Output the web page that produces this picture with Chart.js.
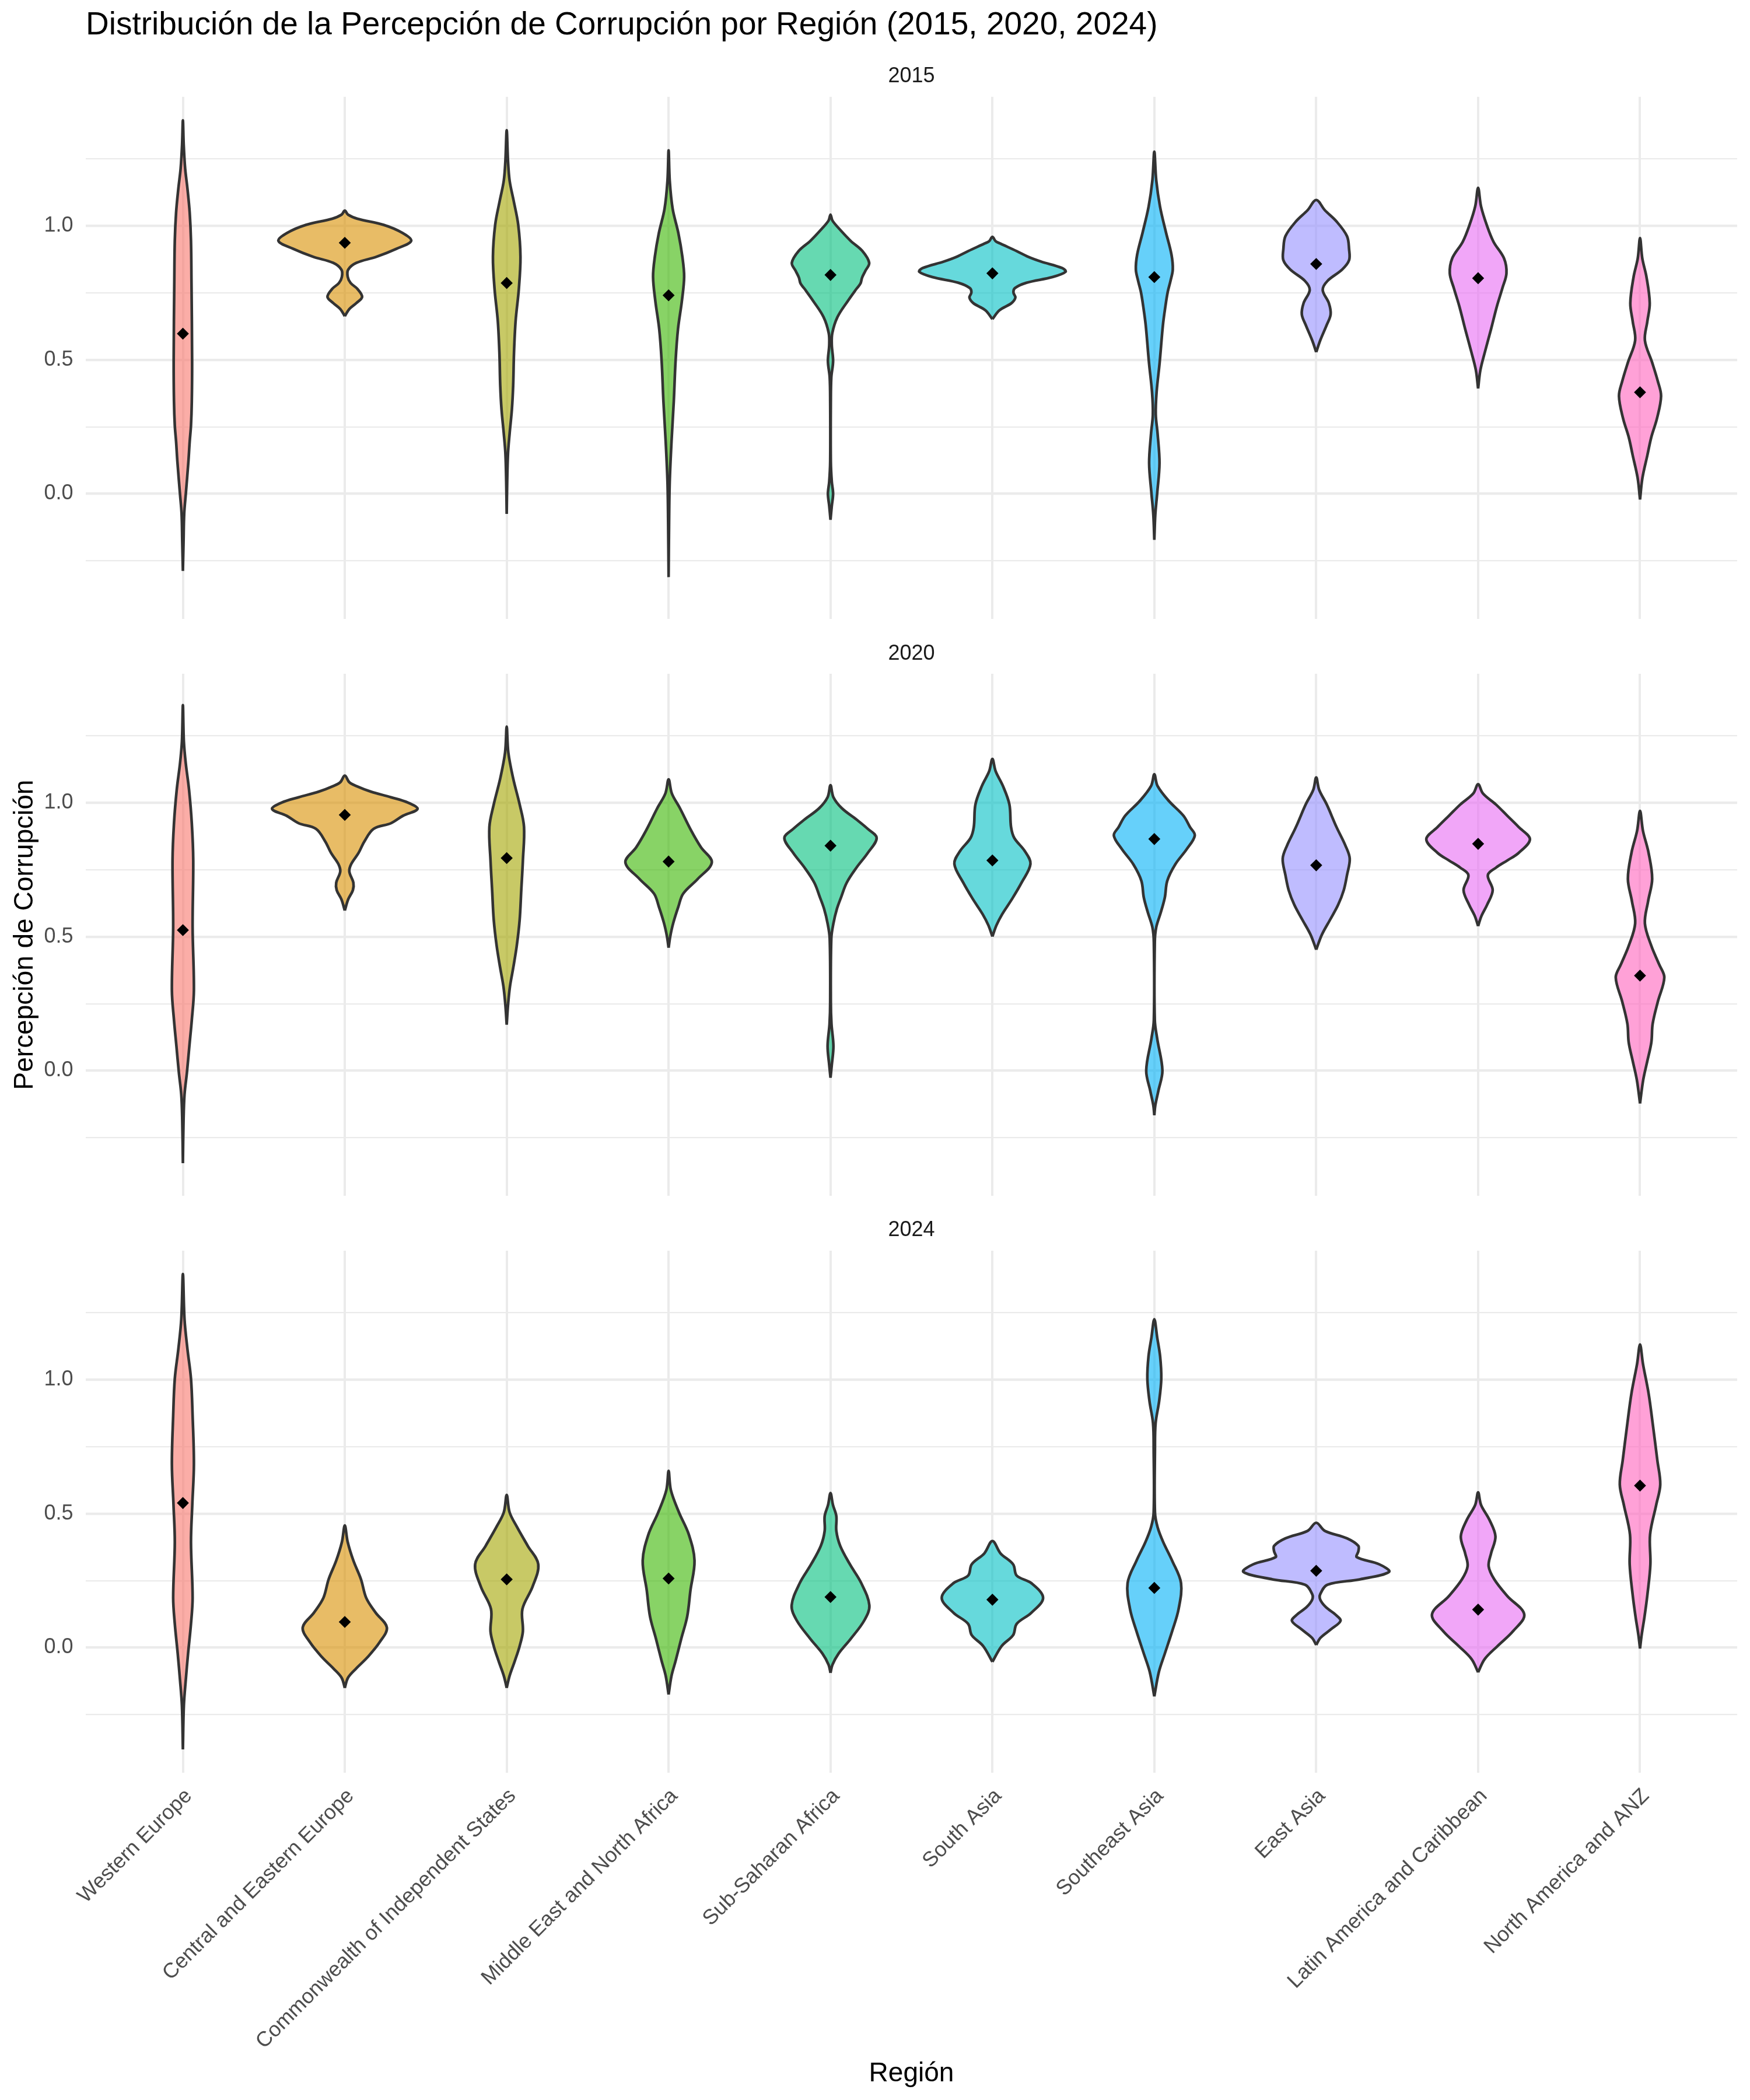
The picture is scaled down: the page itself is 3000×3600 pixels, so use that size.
<!DOCTYPE html>
<html>
<head>
<meta charset="utf-8">
<script src="https://cdn.jsdelivr.net/npm/chart.js@4.4.1/dist/chart.umd.min.js"></script>
<style>
html,body{margin:0;padding:0;background:#ffffff;}
#wrap{position:relative;width:3000px;height:3600px;overflow:hidden;background:#fff;}
canvas{position:absolute;left:0;}
</style>
</head>
<body>
<div id="wrap">
<canvas id="cA" width="3000" height="1061" style="top:0px"></canvas>
<canvas id="cB" width="3000" height="989" style="top:1061px"></canvas>
<canvas id="cC" width="3000" height="1550" style="top:2050px"></canvas>
</div>
<script>
// ---------------- data ----------------
const regions = ['Western Europe','Central and Eastern Europe','Commonwealth of Independent States',
  'Middle East and North Africa','Sub-Saharan Africa','South Asia','Southeast Asia','East Asia',
  'Latin America and Caribbean','North America and ANZ'];
const years = ['2015','2020','2024'];
const yTickValues = [-0.25, 0, 0.25, 0.5, 0.75, 1.0, 1.25];

// mean (diamond) per region
const means2015 = [0.598, 0.937, 0.787, 0.741, 0.817, 0.823, 0.809, 0.858, 0.805, 0.379];
const means2020 = [0.525, 0.955, 0.794, 0.781, 0.840, 0.785, 0.865, 0.767, 0.847, 0.355];
const means2024 = [0.540, 0.096, 0.255, 0.258, 0.189, 0.179, 0.223, 0.287, 0.142, 0.605];

// violin density profiles: [value, half-width in category units]
const density2015 = [
  [[1.394,0],[1.304,0.005],[1.214,0.014],[1.140,0.028],[1.050,0.042],[0.945,0.050],[0.795,0.053],[0.495,0.057],[0.345,0.055],[0.255,0.050],[0.195,0.042],[0.120,0.034],[0.0,0.018],[-0.075,0.008],[-0.18,0.004],[-0.288,0]],
  [[1.057,0],[1.042,0.02],[1.027,0.078],[1.004,0.24],[0.974,0.356],[0.944,0.41],[0.915,0.32],[0.885,0.196],[0.862,0.071],[0.837,0.021],[0.810,0.018],[0.787,0.036],[0.765,0.078],[0.735,0.107],[0.712,0.071],[0.690,0.028],[0.663,0]],
  [[1.357,0],[1.244,0.008],[1.169,0.018],[1.094,0.043],[1.005,0.071],[0.885,0.085],[0.765,0.075],[0.645,0.055],[0.525,0.045],[0.405,0.040],[0.315,0.032],[0.225,0.018],[0.150,0.008],[0.045,0.003],[-0.075,0]],
  [[1.282,0],[1.169,0.007],[1.064,0.025],[0.974,0.06],[0.885,0.085],[0.810,0.096],[0.720,0.082],[0.615,0.058],[0.495,0.043],[0.345,0.032],[0.195,0.018],[0.045,0.007],[-0.105,0.003],[-0.311,0]],
  [[1.042,0],[1.020,0.012],[0.990,0.053],[0.944,0.125],[0.907,0.196],[0.862,0.239],[0.832,0.215],[0.807,0.195],[0.785,0.185],[0.765,0.16],[0.720,0.107],[0.660,0.043],[0.600,0.011],[0.555,0.008],[0.495,0.016],[0.435,0.005],[0.345,0.002],[0.120,0.002],[0.045,0.008],[0.0,0.016],[-0.045,0.008],[-0.097,0]],
  [[0.959,0],[0.943,0.02],[0.934,0.05],[0.906,0.15],[0.885,0.22],[0.867,0.30],[0.843,0.43],[0.829,0.452],[0.809,0.37],[0.788,0.21],[0.768,0.139],[0.751,0.13],[0.733,0.142],[0.712,0.118],[0.685,0.043],[0.652,0]],
  [[1.277,0],[1.170,0.012],[1.073,0.035],[0.976,0.072],[0.893,0.106],[0.837,0.114],[0.795,0.1],[0.754,0.083],[0.698,0.068],[0.629,0.053],[0.490,0.033],[0.379,0.014],[0.296,0.009],[0.226,0.02],[0.115,0.032],[0.004,0.018],[-0.079,0.006],[-0.172,0]],
  [[1.097,0],[1.059,0.053],[1.017,0.125],[0.962,0.19],[0.913,0.203],[0.872,0.203],[0.837,0.16],[0.795,0.07],[0.761,0.04],[0.712,0.078],[0.670,0.089],[0.629,0.064],[0.573,0.025],[0.529,0]],
  [[1.142,0],[1.073,0.018],[1.004,0.053],[0.941,0.095],[0.879,0.16],[0.823,0.175],[0.768,0.15],[0.698,0.115],[0.615,0.08],[0.532,0.043],[0.462,0.014],[0.393,0]],
  [[0.955,0],[0.879,0.014],[0.809,0.04],[0.712,0.06],[0.643,0.045],[0.573,0.03],[0.490,0.075],[0.420,0.11],[0.365,0.13],[0.282,0.105],[0.212,0.07],[0.143,0.045],[0.060,0.015],[-0.021,0]]
];
const density2020 = [
  [[1.365,0],[1.229,0.006],[1.146,0.018],[1.049,0.038],[0.924,0.055],[0.785,0.064],[0.536,0.060],[0.300,0.068],[0.189,0.055],[0.092,0.040],[-0.006,0.025],[-0.089,0.010],[-0.186,0.004],[-0.345,0]],
  [[1.102,0],[1.077,0.028],[1.063,0.07],[1.042,0.16],[1.021,0.285],[1.001,0.39],[0.977,0.449],[0.952,0.36],[0.924,0.285],[0.903,0.178],[0.855,0.12],[0.813,0.085],[0.772,0.04],[0.744,0.028],[0.702,0.053],[0.674,0.05],[0.640,0.021],[0.598,0]],
  [[1.285,0],[1.188,0.01],[1.091,0.04],[0.994,0.08],[0.910,0.107],[0.785,0.10],[0.674,0.09],[0.563,0.08],[0.466,0.062],[0.383,0.04],[0.314,0.02],[0.244,0.008],[0.172,0]],
  [[1.088,0],[1.035,0.02],[0.980,0.07],[0.896,0.14],[0.834,0.2],[0.778,0.267],[0.716,0.18],[0.661,0.09],[0.612,0.06],[0.550,0.028],[0.501,0.01],[0.459,0]],
  [[1.066,0],[1.021,0.018],[0.980,0.07],[0.938,0.16],[0.903,0.23],[0.869,0.285],[0.813,0.23],[0.758,0.16],[0.702,0.10],[0.647,0.065],[0.605,0.04],[0.550,0.018],[0.494,0.005],[0.258,0.002],[0.175,0.006],[0.092,0.018],[0.022,0.008],[-0.026,0]],
  [[1.164,0],[1.118,0.02],[1.063,0.065],[0.994,0.105],[0.910,0.115],[0.869,0.135],[0.820,0.2],[0.772,0.235],[0.702,0.18],[0.640,0.12],[0.584,0.06],[0.543,0.025],[0.501,0]],
  [[1.107,0],[1.063,0.02],[1.007,0.09],[0.952,0.18],[0.910,0.22],[0.878,0.25],[0.827,0.2],[0.771,0.13],[0.709,0.08],[0.647,0.065],[0.591,0.04],[0.536,0.012],[0.480,0.003],[0.189,0.003],[0.119,0.018],[0.001,0.05],[-0.075,0.025],[-0.130,0.006],[-0.166,0]],
  [[1.095,0],[1.049,0.018],[0.994,0.065],[0.910,0.125],[0.841,0.18],[0.792,0.207],[0.730,0.19],[0.674,0.17],[0.619,0.135],[0.563,0.085],[0.508,0.035],[0.452,0]],
  [[1.070,0],[1.035,0.03],[0.994,0.11],[0.952,0.18],[0.910,0.25],[0.864,0.32],[0.813,0.25],[0.785,0.18],[0.758,0.11],[0.730,0.06],[0.674,0.09],[0.619,0.055],[0.577,0.02],[0.540,0]],
  [[0.970,0],[0.896,0.018],[0.813,0.053],[0.716,0.075],[0.633,0.05],[0.550,0.03],[0.466,0.07],[0.397,0.118],[0.348,0.15],[0.258,0.11],[0.175,0.078],[0.106,0.07],[0.036,0.045],[-0.033,0.02],[-0.122,0]]
];
const density2024 = [
  [[1.395,0],[1.226,0.01],[1.115,0.028],[1.004,0.05],[0.866,0.06],[0.685,0.068],[0.533,0.058],[0.394,0.05],[0.186,0.06],[0.089,0.05],[-0.022,0.032],[-0.119,0.018],[-0.216,0.006],[-0.380,0]],
  [[0.456,0],[0.394,0.018],[0.325,0.053],[0.255,0.1],[0.186,0.132],[0.131,0.19],[0.075,0.26],[0.020,0.215],[-0.036,0.14],[-0.078,0.07],[-0.112,0.02],[-0.150,0]],
  [[0.570,0],[0.505,0.018],[0.450,0.064],[0.380,0.13],[0.311,0.195],[0.228,0.16],[0.144,0.097],[0.061,0.1],[0.006,0.08],[-0.050,0.05],[-0.105,0.018],[-0.150,0]],
  [[0.660,0],[0.588,0.014],[0.505,0.064],[0.422,0.125],[0.325,0.16],[0.214,0.135],[0.117,0.115],[0.033,0.078],[-0.050,0.043],[-0.105,0.018],[-0.175,0]],
  [[0.577,0],[0.533,0.015],[0.491,0.036],[0.436,0.036],[0.380,0.06],[0.311,0.12],[0.241,0.19],[0.158,0.24],[0.103,0.21],[0.033,0.125],[-0.022,0.05],[-0.064,0.012],[-0.094,0]],
  [[0.398,0],[0.352,0.05],[0.311,0.128],[0.269,0.15],[0.241,0.24],[0.186,0.313],[0.130,0.24],[0.089,0.15],[0.047,0.128],[0.006,0.057],[-0.053,0]],
  [[1.226,0],[1.157,0.018],[1.087,0.036],[1.004,0.043],[0.921,0.03],[0.838,0.008],[0.741,0.004],[0.505,0.004],[0.450,0.02],[0.394,0.055],[0.325,0.11],[0.241,0.165],[0.144,0.15],[0.061,0.11],[-0.022,0.065],[-0.091,0.028],[-0.182,0]],
  [[0.466,0],[0.436,0.053],[0.408,0.19],[0.380,0.26],[0.359,0.26],[0.338,0.25],[0.311,0.39],[0.283,0.45],[0.255,0.27],[0.235,0.07],[0.200,0.025],[0.179,0.025],[0.151,0.06],[0.123,0.12],[0.100,0.15],[0.068,0.09],[0.036,0.025],[0.010,0]],
  [[0.580,0],[0.533,0.018],[0.477,0.07],[0.415,0.107],[0.352,0.08],[0.304,0.065],[0.255,0.1],[0.193,0.18],[0.124,0.285],[0.061,0.215],[0.006,0.12],[-0.043,0.04],[-0.092,0]],
  [[1.132,0],[1.060,0.018],[0.949,0.053],[0.838,0.078],[0.699,0.107],[0.609,0.125],[0.533,0.1],[0.422,0.062],[0.311,0.064],[0.200,0.046],[0.117,0.028],[0.047,0.01],[-0.003,0]]
];

// ---------------- style ----------------
const hues = ['#F8766D','#D89000','#A3A500','#39B600','#00BF7D','#00BFC4','#00B0F6','#9590FF','#E76BF3','#FF62BC'];
const FONT = "'Liberation Sans', Arial, Helvetica, sans-serif";
Chart.defaults.font.family = FONT;

function withAlpha(hex, a){
  const n = parseInt(hex.slice(1),16);
  return 'rgba(' + ((n>>16)&255) + ',' + ((n>>8)&255) + ',' + (n&255) + ',' + a + ')';
}
function violinPoints(center, knots){
  const k = knots.slice().sort((a,b)=>a[0]-b[0]);
  const right = k.map(([v,w]) => ({x: center + w, y: v}));
  const left = k.slice().reverse().map(([v,w]) => ({x: center - w, y: v}));
  return right.concat(left.slice(1));
}
function isMajor(v){ return Math.abs(v*2 - Math.round(v*2)) < 1e-9; }

function makePanel(id, year, dens, means, cfg){
  const datasets = [{
    label: 'Media ' + year,
    data: means.map((m,i)=>({x:i+1, y:m})),
    showLine:false,
    pointStyle:'rectRot', pointRadius:10.3, pointHoverRadius:10.3,
    pointBackgroundColor:'#000000', pointBorderWidth:0, pointBorderColor:'#000000',
    order:0
  }];
  dens.forEach((knots,i)=>{
    datasets.push({
      label: regions[i] + ' ' + year,
      data: violinPoints(i+1, knots),
      showLine:true,
      fill:'shape',
      backgroundColor: withAlpha(hues[i], 0.6),
      borderColor:'#333333',
      borderWidth:4.6,
      borderJoinStyle:'round',
      tension:0.35,
      pointRadius:0, pointHoverRadius:0,
      order:1
    });
  });
  return new Chart(document.getElementById(id), {
    type:'scatter',
    data:{datasets},
    options:{
      responsive:false, animation:false, devicePixelRatio:1, events:[],
      layout:{autoPadding:false, padding:{left:0,right:22,top:0,bottom:0}},
      plugins:{
        legend:{display:false},
        tooltip:{enabled:false},
        title: cfg.title ? {display:true, text:cfg.title, align:'start', fullSize:false, color:'#000000',
          font:{size:55, weight:'normal'}, padding:{top:11,bottom:0}} : {display:false},
        subtitle:{display:true, text:year, align:'center', fullSize:false, color:'#1A1A1A',
          font:{size:36, weight:'normal'}, padding:cfg.stripPad}
      },
      scales:{
        x:{
          type:'linear', min:0.4, max:10.6,
          afterBuildTicks: s => { s.ticks = regions.map((r,i)=>({value:i+1})); },
          ticks:{display:cfg.xLabels, autoSkip:false, minRotation:45, maxRotation:45, padding:19, labelOffset:10,
            color:'#4D4D4D', font:{size:36}, callback:(v,i)=>regions[i]},
          grid:{color:'#EBEBEB', lineWidth:4, drawTicks:false},
          border:{display:false},
          title: cfg.xTitle ? {display:true, text:'Región', color:'#000000', font:{size:46},
            padding:{top:0,bottom:17.4}} : {display:false},
          afterFit: s => { s.height = cfg.xHeight; s.paddingLeft = 0; s.paddingRight = 0; }
        },
        y:{
          type:'linear', min:-0.467, max:1.482,
          afterBuildTicks: s => { s.ticks = yTickValues.map(v=>({value:v})); },
          ticks:{color:'#4D4D4D', font:{size:36}, padding:21.5,
            callback: v => isMajor(v) ? v.toFixed(1) : ''},
          grid:{color:'#EBEBEB', lineWidth: c => (c.tick && isMajor(c.tick.value)) ? 4.3 : 2.2, drawTicks:false},
          border:{display:false},
          title: cfg.yTitle ? {display:true, text:'Percepción de Corrupción', color:'#000000', font:{size:46},
            padding:{top:16,bottom:0}} : {display:false},
          afterFit: s => { s.width = 147; s.paddingTop = 0; s.paddingBottom = 0; }
        }
      }
    }
  });
}

makePanel('cA', years[0], density2015, means2015, {
  title:'Distribución de la Percepción de Corrupción por Región (2015, 2020, 2024)',
  stripPad:{top:32.4,bottom:13.4}, xLabels:false, xTitle:false, xHeight:0, yTitle:false});
makePanel('cB', years[1], density2020, means2020, {
  title:null, stripPad:{top:38.9,bottom:11.9}, xLabels:false, xTitle:false, xHeight:0, yTitle:true});
makePanel('cC', years[2], density2024, means2024, {
  title:null, stripPad:{top:37.9,bottom:12.9}, xLabels:true, xTitle:true, xHeight:561, yTitle:false});
</script>
</body>
</html>
